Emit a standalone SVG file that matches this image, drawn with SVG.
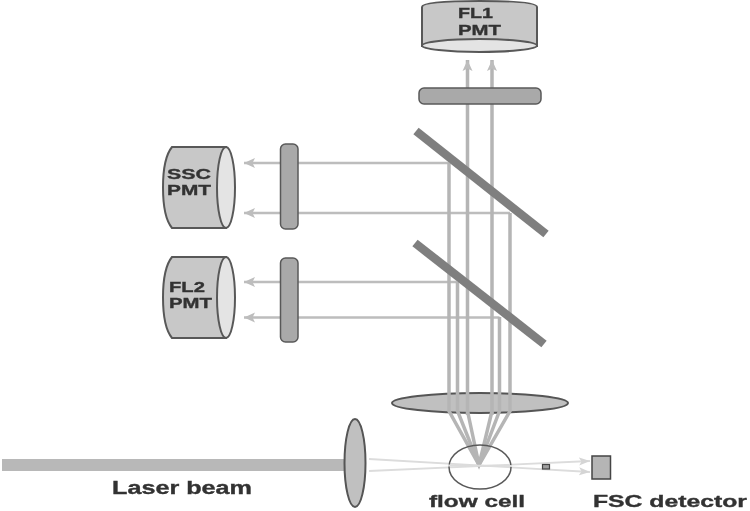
<svg xmlns="http://www.w3.org/2000/svg" width="750" height="511" viewBox="0 0 750 511">
<style>
.body{fill:#c8c8c8;stroke:#595959;stroke-width:2}
.face{fill:#e4e4e4;stroke:#595959;stroke-width:2}
.filter{fill:#a9a9a9;stroke:#595959;stroke-width:1.5}
.mirror{stroke:#7f7f7f;stroke-width:8.5;fill:none}
.lens{fill:#c0c0c0;stroke:#555;stroke-width:2}
.ray{stroke:#b5b5b5;stroke-width:3.5;fill:none}
.rayh{stroke:#bdbdbd;stroke-width:2.5;fill:none}
.faint{stroke:#dcdcdc;stroke-width:1.8;fill:none}
text{font-family:"Liberation Sans",Arial,sans-serif;font-weight:bold;fill:#333;stroke:#333;stroke-width:0.35}
.pmt{font-size:15.5px}
.cap{font-size:18px}
</style>
<defs>
<marker id="ah" markerUnits="userSpaceOnUse" markerWidth="12" markerHeight="12" refX="11" refY="6" orient="auto"><path d="M0,6 L11,6 L0,1 L2.500,6 L0,11 L11,6Z" fill="#bdbdbd"/></marker>
<marker id="af" markerUnits="userSpaceOnUse" markerWidth="12" markerHeight="10" refX="11" refY="5" orient="auto"><path d="M0,1 L11,5 L0,9 L2.500,5Z" fill="#d5d5d5"/></marker>
<filter id="soft" x="0" y="0" width="100%" height="100%"><feGaussianBlur stdDeviation="0.45"/></filter>
</defs>
<g filter="url(#soft)">
<rect width="750" height="511" fill="#fff"/>
<g id="laser-beam"><rect x="2" y="459" width="344" height="12" fill="#b8b8b8"/></g>

<g id="lens-objective"><ellipse class="lens" cx="480" cy="403" rx="88" ry="10"/></g>

<g id="connectors">
<path class="faint" d="M369,459 L590,472" marker-end="url(#af)"/>
<path class="faint" d="M369,471 L590,461" marker-end="url(#af)"/>
<path class="rayh" d="M449,163 H244" marker-end="url(#ah)"/>
<path class="rayh" d="M510,213 H244" marker-end="url(#ah)"/>
<path class="rayh" d="M457.500,282 H244" marker-end="url(#ah)"/>
<path class="rayh" d="M499.500,317.500 H244" marker-end="url(#ah)"/>
<path class="ray" d="M467.500,415 V60" marker-end="url(#ah)"/>
<path class="ray" d="M492,415 V60" marker-end="url(#ah)"/>
<path class="ray" d="M449,163 V411 L479,465 L510,411 V213"/>
<path class="ray" d="M457.500,282 V411 L479,465 L499.500,411 V317"/>
<path class="ray" d="M467.500,411 L479,465 L492,411"/>
</g>

<g id="mirror-1"><path class="mirror" d="M416,131 L546,234"/></g>
<g id="mirror-2"><path class="mirror" d="M415,243 L544,344"/></g>

<g id="fl1-filter"><rect class="filter" x="419" y="88" width="122" height="16" rx="5"/></g>
<g id="ssc-filter"><rect class="filter" x="280.500" y="144" width="17.500" height="85" rx="5"/></g>
<g id="fl2-filter"><rect class="filter" x="280.500" y="258" width="17.500" height="84" rx="5"/></g>

<g id="fl1-pmt">
<path class="body" d="M422,46 V7 Q422,1 480,1 Q537,1 537,7 V46Z"/>
<ellipse class="face" cx="479.500" cy="45.500" rx="57.500" ry="6.500"/>
<text class="pmt" x="458" y="18" textLength="35" lengthAdjust="spacingAndGlyphs">FL1</text>
<text class="pmt" x="458" y="35" textLength="43" lengthAdjust="spacingAndGlyphs">PMT</text>
</g>

<g id="ssc-pmt">
<path class="body" d="M226,147 H172 Q163,158 163,187.500 Q163,217 172,228 H226Z"/>
<ellipse class="face" cx="226" cy="187.500" rx="9" ry="40.500"/>
<text class="pmt" x="167" y="179" textLength="44" lengthAdjust="spacingAndGlyphs">SSC</text>
<text class="pmt" x="167" y="195" textLength="44" lengthAdjust="spacingAndGlyphs">PMT</text>
</g>

<g id="fl2-pmt">
<path class="body" d="M226,257 H172 Q163,268 163,297.500 Q163,327 172,338 H226Z"/>
<ellipse class="face" cx="226" cy="297.500" rx="9" ry="40.500"/>
<text class="pmt" x="169" y="292" textLength="36" lengthAdjust="spacingAndGlyphs">FL2</text>
<text class="pmt" x="169" y="308" textLength="43" lengthAdjust="spacingAndGlyphs">PMT</text>
</g>

<g id="lens-condenser"><ellipse class="lens" cx="355" cy="463" rx="10.500" ry="44"/></g>

<g id="flow-cell">
<ellipse cx="480" cy="467" rx="31" ry="22" fill="none" stroke="#595959" stroke-width="1.500"/>
<path class="faint" d="M448,465.500 L512,466"/>
<text x="429" y="507" font-size="17" textLength="96" lengthAdjust="spacingAndGlyphs">flow cell</text>
</g>

<g id="beam-stop"><rect x="542.500" y="464.500" width="7" height="4.500" fill="#a0a0a0" stroke="#444" stroke-width="1.200"/></g>

<g id="fsc-detector">
<rect x="592" y="456" width="18.500" height="23" fill="#b5b5b5" stroke="#444" stroke-width="1.500"/>
<text x="593" y="507" font-size="17" textLength="154" lengthAdjust="spacingAndGlyphs">FSC detector</text>
</g>

<g id="laser-label"><text class="cap" x="112" y="494" textLength="140" lengthAdjust="spacingAndGlyphs">Laser beam</text></g>
</g>
</svg>
